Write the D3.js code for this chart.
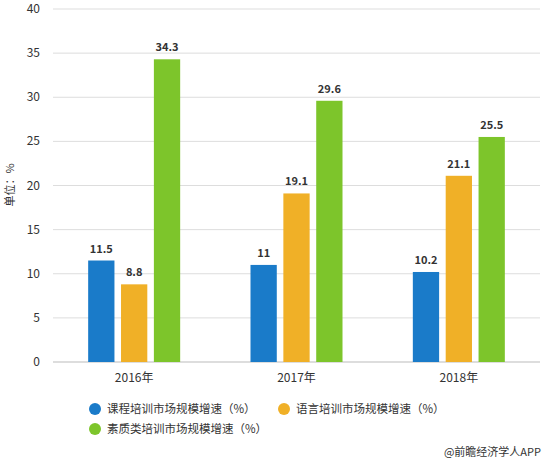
<!DOCTYPE html><html><head><meta charset="utf-8"><script src="https://cdn.jsdelivr.net/npm/d3@7"></script>
<style>body{margin:0;background:#fff}text{font-family:"Noto Sans CJK SC","Noto Sans",sans-serif}</style></head><body>
<svg id="c" width="547" height="464"></svg>
<script>
const categories=["2016年","2017年","2018年"];
const seriesNames=["课程培训市场规模增速（%）","语言培训市场规模增速（%）","素质类培训市场规模增速（%）"];
const course=[11.5,11,10.2];
const language=[8.8,19.1,21.1];
const quality=[34.3,29.6,25.5];
const labels=[["11.5","11","10.2"],["8.8","19.1","21.1"],["34.3","29.6","25.5"]];
const yTicks=[0,5,10,15,20,25,30,35,40];
const colors=["#1a7bc9","#f0b027","#7dc52b"];
const series=[course,language,quality];
const svg=d3.select("#c");
const x=d3.scaleBand().domain(categories).range([53,540]).paddingInner(0).paddingOuter(0);
const y=d3.scaleLinear().domain([0,40]).range([362,9]);
const xs=d3.scaleBand().domain([0,1,2]).range([0,92]).paddingInner(0.2);
svg.append("g").selectAll("line").data(yTicks).join("line").attr("x1",53).attr("x2",540)
 .attr("y1",d=>y(d)).attr("y2",d=>y(d)).attr("stroke",d=>d===0?"#bbb":"#ddd");
svg.append("g").selectAll("text").data(yTicks).join("text").attr("x",40).attr("y",d=>y(d)+4)
 .attr("text-anchor","end").attr("font-size",12).attr("fill","#333").text(d=>d);
svg.append("g").selectAll("text").data(categories).join("text").attr("x",d=>x(d)+x.bandwidth()/2).attr("y",382)
 .attr("text-anchor","middle").attr("font-size",12).attr("fill","#333").text(d=>d);
series.forEach((s,i)=>{
 const g=svg.append("g");
 g.selectAll("rect").data(s).join("rect")
  .attr("x",(d,j)=>x(categories[j])+x.bandwidth()/2-46+xs(i)).attr("width",xs.bandwidth())
  .attr("y",d=>y(d)).attr("height",d=>y(0)-y(d)).attr("fill",colors[i]);
 g.selectAll("text").data(s).join("text")
  .attr("x",(d,j)=>x(categories[j])+x.bandwidth()/2-46+xs(i)+xs.bandwidth()/2).attr("y",d=>y(d)-8)
  .attr("text-anchor","middle").attr("font-size",11).attr("font-weight","bold").attr("fill","#333")
  .text((d,j)=>labels[i][j]);
});
svg.append("text").attr("transform","translate(14,185) rotate(-90)").attr("text-anchor","middle")
 .attr("font-size",11).attr("fill","#333").text("单位：%");
const leg=[[95,409],[284,409],[95,429]];
seriesNames.forEach((n,i)=>{
 svg.append("circle").attr("cx",leg[i][0]).attr("cy",leg[i][1]).attr("r",6).attr("fill",colors[i]);
 svg.append("text").attr("x",leg[i][0]+12).attr("y",leg[i][1]+4).attr("font-size",11.5).attr("fill","#333").text(n);
});
svg.append("text").attr("x",541).attr("y",456).attr("text-anchor","end").attr("font-size",11).attr("fill","#333").text("@前瞻经济学人APP");
</script></body></html>
